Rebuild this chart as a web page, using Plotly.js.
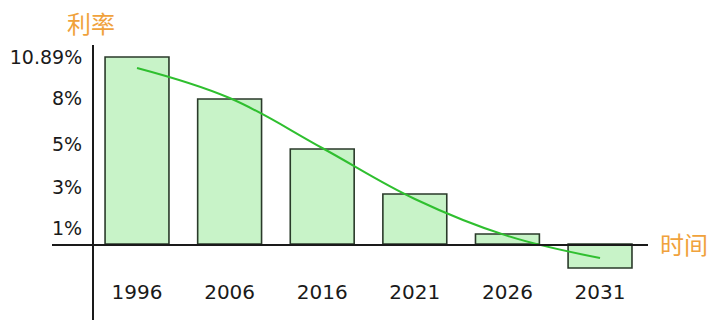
<!DOCTYPE html>
<html>
<head>
<meta charset="utf-8">
<script src="https://cdn.plot.ly/plotly-3.0.1.min.js"></script>
<style>html,body{margin:0;padding:0;background:#fff;}#chart{width:720px;height:333px;}</style>
</head>
<body>
<div id="chart"></div>
<script>
// Data
const years = ['1996', '2006', '2016', '2021', '2026', '2031'];
const rates = [10.89, 8.44, 5.53, 2.91, 0.58, -1.40];
const trend = [10.25, 8.5, 5.59, 2.62, 0.47, -0.82];
const yTickVals = [10.89, 8.5, 5.82, 3.32, 0.93];
const yTickText = ['10.89%', '8%', '5%', '3%', '1%'];
const yTitle = '利率';
const xTitle = '时间';

const ymin = -4.43, ymax = 11.59;
const zeroPos = (0 - ymin) / (ymax - ymin);

const bars = {
  type: 'bar', x: years, y: rates, width: 0.69,
  marker: {color: '#c8f3c8', line: {color: '#2a3a2a', width: 1.6}},
  hoverinfo: 'x+y'
};
const line = {
  type: 'scatter', mode: 'lines', x: years, y: trend,
  line: {color: '#2fbf2f', width: 2, shape: 'spline', smoothing: 1.1}
};

const yTickFont = {family: 'DejaVu Sans, sans-serif', size: 19, color: '#1a1a1a'};
const xTickFont = {family: 'DejaVu Sans, sans-serif', size: 20, color: '#1a1a1a'};
const layout = {
  width: 720, height: 333,
  margin: {l: 52, r: 72, t: 45, b: 13},
  paper_bgcolor: '#ffffff', plot_bgcolor: '#ffffff',
  showlegend: false,
  xaxis: {
    type: 'category', range: [-0.918, 5.518],
    anchor: 'free', position: zeroPos,
    showline: true, linecolor: '#1a1a1a', linewidth: 1.6,
    showgrid: false, zeroline: false, ticks: '',
    tickfont: xTickFont, ticklabelstandoff: 29
  },
  yaxis: {
    range: [ymin, ymax],
    anchor: 'free', position: 0.0671,
    showline: true, linecolor: '#1a1a1a', linewidth: 1.6,
    showgrid: false, zeroline: false, ticks: '',
    tickvals: yTickVals, ticktext: yTickText,
    tickfont: yTickFont, ticklabelstandoff: 6
  },
  annotations: [
    {text: yTitle, xref: 'paper', yref: 'paper', x: (91 - 52) / 596, y: 1, xanchor: 'center', yanchor: 'middle', yshift: 23,
     showarrow: false, font: {family: 'Noto Sans CJK SC, sans-serif', size: 24, color: '#f0a23c'}},
    {text: xTitle, xref: 'paper', yref: 'paper', x: 1, y: zeroPos, xanchor: 'left', yanchor: 'middle', xshift: 10,
     showarrow: false, font: {family: 'Noto Sans CJK SC, sans-serif', size: 24, color: '#f0a23c'}}
  ]
};

Plotly.newPlot('chart', [bars, line], layout, {displayModeBar: false, staticPlot: true});
</script>
</body>
</html>
